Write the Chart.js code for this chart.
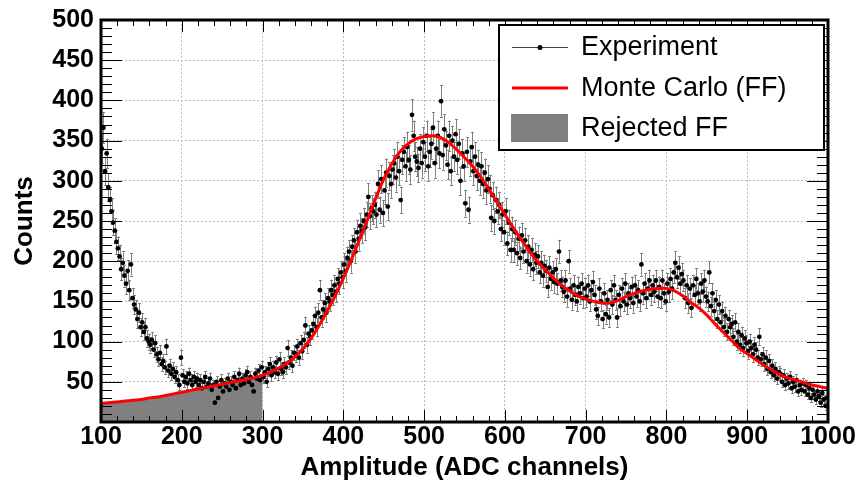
<!DOCTYPE html>
<html>
<head>
<meta charset="utf-8">
<script src="https://cdn.jsdelivr.net/npm/chart.js@4.4.1/dist/chart.umd.min.js"></script>
<style>
  html, body { margin: 0; padding: 0; background: #fff; }
  #wrap { width: 861px; height: 486px; position: relative; }
</style>
</head>
<body>
<div id="wrap"><canvas id="spectrumChart"></canvas></div>
<script>
// experiment histogram: bin centres start at channel 101, one bin every 2 channels
const expStart = 101;
const expStep = 2;
const expCounts = [
    340, 366, 312, 334, 292, 276, 262, 248, 238, 224, 216, 206, 190, 198, 182,
    172, 188, 164, 196, 154, 146, 140, 128, 136, 118, 124, 112, 118, 104, 100,
    96, 102, 90, 98, 84, 78, 86, 72, 76, 68, 94, 64, 70, 60, 66,
    56, 62, 52, 46, 80, 58, 50, 56, 48, 60, 52, 46, 56, 50, 54,
    46, 52, 42, 50, 56, 44, 48, 54, 40, 46, 24, 50, 30, 44, 52,
    38, 48, 44, 54, 40, 50, 46, 56, 42, 52, 60, 46, 54, 48, 58,
    62, 50, 56, 46, 38, 60, 54, 64, 52, 68, 56, 62, 50, 66, 72,
    58, 68, 62, 74, 60, 78, 66, 62, 72, 68, 92, 74, 80, 70, 86,
    84, 94, 80, 98, 88, 102, 120, 96, 110, 106, 114, 122, 132, 118, 136,
    164, 130, 140, 148, 136, 154, 150, 164, 158, 170, 162, 178, 172, 186, 180,
    196, 188, 204, 212, 200, 218, 226, 212, 236, 228, 244, 238, 250, 242, 258,
    280, 256, 266, 262, 270, 258, 296, 264, 302, 260, 288, 310, 268, 306, 296,
    314, 322, 304, 330, 312, 276, 326, 336, 318, 342, 326, 314, 382, 356, 330,
    324, 316, 340, 322, 348, 330, 356, 318, 336, 346, 366, 322, 340, 356, 334,
    399, 332, 364, 344, 320, 356, 312, 350, 330, 358, 326, 346, 300, 334, 318,
    272, 336, 264, 324, 342, 312, 330, 306, 320, 300, 318, 296, 310, 288, 302,
    290, 254, 282, 250, 276, 262, 270, 240, 258, 236, 262, 222, 248, 214, 240,
    214, 236, 210, 228, 204, 232, 212, 226, 200, 218, 196, 214, 190, 208, 198,
    206, 186, 198, 182, 194, 188, 168, 192, 178, 186, 174, 190, 172, 212, 176,
    168, 162, 176, 156, 200, 166, 152, 170, 158, 150, 168, 160, 172, 154, 166,
    156, 170, 150, 164, 174, 158, 140, 132, 166, 150, 128, 160, 134, 152, 130,
    164, 146, 170, 152, 130, 158, 144, 166, 150, 172, 146, 160, 154, 168, 148,
    170, 156, 164, 150, 196, 160, 172, 154, 166, 176, 158, 170, 162, 176, 156,
    168, 154, 176, 160, 150, 172, 162, 178, 166, 186, 198, 180, 192, 172, 184,
    176, 154, 170, 148, 166, 142, 170, 158, 178, 160, 150, 172, 162, 176, 156,
    150, 186, 144, 160, 138, 152, 128, 146, 124, 138, 118, 132, 112, 128, 118,
    122, 106, 124, 100, 112, 96, 108, 92, 104, 98, 88, 100, 92, 84, 96,
    90, 80, 106, 78, 84, 72, 80, 66, 76, 62, 70, 58, 66, 54, 62,
    60, 50, 58, 46, 54, 48, 56, 42, 50, 44, 52, 38, 46, 40, 48,
    38, 46, 34, 42, 30, 40, 34, 28, 38, 32, 24, 36, 28, 20, 30
];

// Monte Carlo (FF) curve, read every 10 channels from 100 to 1000
const mcStart = 100;
const mcStep = 10;
const mcCounts = [
    23, 24, 25, 26, 27, 28, 30, 31, 33, 35,
    37, 39, 41, 43, 45, 47, 49, 51, 53, 55,
    58, 62, 67, 73, 81, 91, 104, 120, 138, 157,
    179, 202, 227, 252, 278, 302, 321, 336, 346, 352,
    355, 356, 354, 348, 339, 329, 318, 305, 290, 274,
    258, 242, 227, 213, 200, 189, 179, 170, 163, 157,
    153, 150, 148, 148, 151, 156, 160, 163, 165, 166,
    166, 163, 157, 149, 142, 133, 122, 112, 102, 92,
    85, 78, 71, 65, 59, 55, 52, 49, 46, 44, 42
];
const rejectedMax = 300;   // FF below this channel are rejected

const xTicks = [100, 200, 300, 400, 500, 600, 700, 800, 900, 1000];
const yTicks = [50, 100, 150, 200, 250, 300, 350, 400, 450, 500];

const fontFamily = "'Liberation Sans', Arial, Helvetica, sans-serif";

const expPoints = expCounts.map((c, i) => ({ x: expStart + i * expStep, y: c }));
const mcPoints = mcCounts.map((c, i) => ({ x: mcStart + i * mcStep, y: c }));
const rejectedPoints = mcPoints.filter(p => p.x <= rejectedMax);

// ROOT-like frame, inner ticks, error bars and legend
const rootStyle = {
    id: 'rootStyle',
    beforeDatasetDraw(chart, args) {
        if (args.index !== 2) return;
        const ctx = chart.ctx, xs = chart.scales.x, ys = chart.scales.y, a = chart.chartArea;
        ctx.save();
        ctx.beginPath();
        ctx.rect(a.left, a.top, a.right - a.left, a.bottom - a.top);
        ctx.clip();
        ctx.strokeStyle = '#808080';
        ctx.lineWidth = 1;
        ctx.beginPath();
        expPoints.forEach(p => {
            const err = Math.sqrt(p.y); // Poisson error
            const px = Math.round(xs.getPixelForValue(p.x)) + 0.5;
            const top = ys.getPixelForValue(p.y + err);
            const bot = ys.getPixelForValue(p.y - err);
            ctx.moveTo(px, top); ctx.lineTo(px, bot);
            ctx.moveTo(px - 1.5, Math.round(top) + 0.5); ctx.lineTo(px + 1.5, Math.round(top) + 0.5);
            ctx.moveTo(px - 1.5, Math.round(bot) + 0.5); ctx.lineTo(px + 1.5, Math.round(bot) + 0.5);
        });
        ctx.stroke();
        ctx.restore();
    },
    afterDraw(chart) {
        const ctx = chart.ctx, xs = chart.scales.x, ys = chart.scales.y, a = chart.chartArea;
        ctx.save();
        // inner ticks on all four sides
        ctx.strokeStyle = '#000';
        ctx.lineWidth = 1;
        ctx.beginPath();
        for (let v = 100; v <= 1000; v += 20) {
            const px = Math.round(xs.getPixelForValue(v)) + 0.5;
            const len = v % 100 === 0 ? 12 : 6;
            ctx.moveTo(px, a.bottom); ctx.lineTo(px, a.bottom - len);
            ctx.moveTo(px, a.top); ctx.lineTo(px, a.top + len);
        }
        for (let v = 0; v <= 500; v += 10) {
            const py = Math.round(ys.getPixelForValue(v)) + 0.5;
            const len = v % 50 === 0 ? 21 : 11;
            ctx.moveTo(a.left, py); ctx.lineTo(a.left + len, py);
            ctx.moveTo(a.right, py); ctx.lineTo(a.right - len, py);
        }
        ctx.stroke();
        // frame
        ctx.lineWidth = 3;
        ctx.strokeRect(a.left, a.top, a.right - a.left, a.bottom - a.top);

        // legend box
        const lx = 499, ly = 25, lw = 325, lh = 125;
        ctx.fillStyle = '#fff';
        ctx.fillRect(lx, ly, lw, lh);
        ctx.lineWidth = 2;
        ctx.strokeRect(lx, ly, lw, lh);

        const rows = [47, 88, 128];
        // Experiment: thin line with dot
        ctx.strokeStyle = '#444';
        ctx.lineWidth = 1;
        ctx.beginPath();
        ctx.moveTo(512, rows[0] + 0.5); ctx.lineTo(568, rows[0] + 0.5);
        ctx.stroke();
        ctx.fillStyle = '#000';
        ctx.beginPath();
        ctx.arc(540, rows[0] + 0.5, 2.5, 0, Math.PI * 2);
        ctx.fill();
        // Monte Carlo: red line
        ctx.strokeStyle = '#ff0000';
        ctx.lineWidth = 3;
        ctx.beginPath();
        ctx.moveTo(512, rows[1]); ctx.lineTo(568, rows[1]);
        ctx.stroke();
        // Rejected FF: grey box
        ctx.fillStyle = '#808080';
        ctx.fillRect(511, rows[2] - 14, 57, 28);

        ctx.fillStyle = '#000';
        ctx.font = '27px ' + fontFamily;
        ctx.textBaseline = 'middle';
        ctx.textAlign = 'left';
        ctx.fillText('Experiment', 581, rows[0] + 1);
        ctx.fillText('Monte Carlo (FF)', 581, rows[1] + 1);
        ctx.fillText('Rejected FF', 581, rows[2] + 1);
        ctx.restore();
    }
};

var ctx = document.getElementById('spectrumChart').getContext('2d');
var spectrumChart = new Chart(ctx, {
    type: 'scatter',
    data: {
        datasets: [
            {
                type: 'line',
                label: 'Rejected FF',
                data: rejectedPoints,
                fill: 'origin',
                backgroundColor: '#808080',
                borderColor: 'rgba(0,0,0,0)',
                borderWidth: 0,
                pointRadius: 0,
                tension: 0.4,
                order: 4
            },
            {
                type: 'line',
                label: 'edge',
                data: [{ x: mcStart, y: 0 }, { x: mcStart, y: mcCounts[0] }],
                borderColor: '#ff0000',
                borderWidth: 3,
                pointRadius: 0,
                fill: false,
                order: 1
            },
            {
                type: 'scatter',
                label: 'Experiment',
                data: expPoints,
                pointRadius: 2.4,
                pointBackgroundColor: '#000',
                pointBorderWidth: 0,
                showLine: false,
                order: 3
            },
            {
                type: 'line',
                label: 'Monte Carlo (FF)',
                data: mcPoints,
                borderColor: '#ff0000',
                borderWidth: 3,
                pointRadius: 0,
                fill: false,
                tension: 0.4,
                order: 2
            }
        ]
    },
    options: {
        responsive: true,
        maintainAspectRatio: false,
        animation: false,
        devicePixelRatio: 1,
        events: [],
        layout: { padding: { left: 0, right: 33, top: 20, bottom: 0 } },
        plugins: {
            legend: { display: false },
            tooltip: { enabled: false }
        },
        scales: {
            x: {
                type: 'linear',
                min: 100,
                max: 1000,
                afterBuildTicks: s => { s.ticks = xTicks.map(v => ({ value: v })); },
                afterFit: s => { s.height = 64; s.paddingLeft = 0; s.paddingRight = 0; },
                grid: { color: '#bdbdbd', drawTicks: false, lineWidth: 1 },
                border: { display: false, dash: [2, 2] },
                ticks: {
                    color: '#000',
                    font: { family: fontFamily, size: 25, weight: 'bold', lineHeight: 1 },
                    padding: 3,
                    maxRotation: 0,
                    autoSkip: false,
                    callback: v => String(v)
                },
                title: {
                    display: true,
                    text: 'Amplitude (ADC channels)',
                    color: '#000',
                    font: { family: fontFamily, size: 26, weight: 'bold', lineHeight: 1.2 },
                    padding: { top: 0, bottom: 3 }
                }
            },
            y: {
                min: 0,
                max: 500,
                afterBuildTicks: s => { s.ticks = [0].concat(yTicks).map(v => ({ value: v })); },
                afterFit: s => { s.width = 101; s.paddingTop = 0; s.paddingBottom = 0; },
                grid: { color: '#bdbdbd', drawTicks: false, lineWidth: 1 },
                border: { display: false, dash: [2, 2] },
                ticks: {
                    color: '#000',
                    font: { family: fontFamily, size: 25, weight: 'bold', lineHeight: 1 },
                    padding: 7,
                    callback: v => (v === 0 ? '' : String(v))
                },
                title: {
                    display: true,
                    text: 'Counts',
                    color: '#000',
                    font: { family: fontFamily, size: 26, weight: 'bold', lineHeight: 1.2 },
                    padding: { top: 9, bottom: 0 }
                }
            }
        }
    },
    plugins: [rootStyle]
});
</script>
</body>
</html>
